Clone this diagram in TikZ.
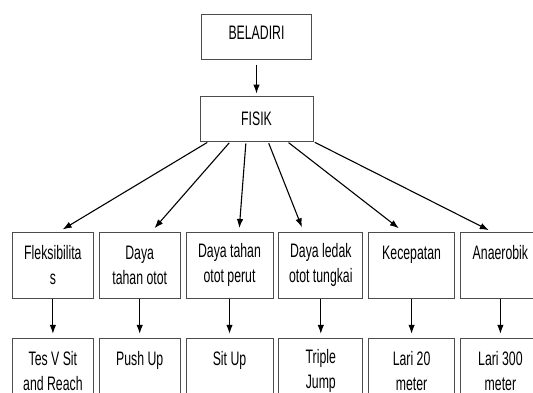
\documentclass[tikz,border=0pt]{standalone}
\usepackage{xcolor}
\usepackage{fontspec}
\setmainfont{Liberation Sans}[FakeStretch=0.63]
\usepackage{tikz}
\usetikzlibrary{arrows.meta,positioning}
\tikzstyle{block} = [rectangle, draw=black!70, line width=0.8pt, inner sep=0pt,
    minimum height=45pt, font=\fontsize{19.5}{25}\selectfont]
\tikzstyle{cat} = [block, align=center, minimum height=66pt]
\tikzstyle{line} = [draw, -{Latex[length=9pt,width=6.5pt]}, line width=1.1pt]

\begin{document}
\begin{tikzpicture}[node distance=5pt]
    \useasboundingbox (0,0) rectangle (533pt,-393pt);
    \clip (0,0) rectangle (533pt,-393pt);
    % Nodes
    \node [block, minimum width=113pt] (fisik) at (256.5pt,-118.5pt) {FISIK};
    \node [block, minimum width=110pt, text depth=7pt, above=36pt of fisik] (beladiri) {BELADIRI};

    \node [cat, minimum width=81pt, anchor=north west] (fleks) at (12pt,-232pt) {Fleksibilita\\s};
    \node [cat, minimum width=81pt, right=of fleks] (otot) {Daya\\tahan otot};
    \node [cat, minimum width=87pt, right=of otot] (perut) {Daya tahan\\otot perut};
    \node [cat, minimum width=84pt, right=of perut] (tungkai) {Daya ledak\\otot tungkai};
    \node [cat, minimum width=86pt, right=of tungkai] (cepat) {Kecepatan\\\mbox{}};
    \node [cat, minimum width=80pt, right=of cepat] (anaerob) {Anaerobik\\\mbox{}};

    \node [cat, minimum width=81pt, below=39pt of fleks] (sitreach) {Tes V Sit\\and Reach};
    \node [cat, minimum width=81pt, below=39pt of otot] (pushup) {Push Up\\\mbox{}};
    \node [cat, minimum width=87pt, below=39pt of perut] (situp) {Sit Up\\\mbox{}};
    \node [cat, minimum width=84pt, below=39pt of tungkai] (jump) {Triple\\Jump};
    \node [cat, minimum width=86pt, below=39pt of cepat] (lari20) {Lari 20\\meter};
    \node [cat, minimum width=80pt, below=39pt of anaerob] (lari300) {Lari 300\\meter};

    % Edges
    \path [line, shorten <=5pt, shorten >=2pt] (beladiri) -- (fisik);
    \path [line, shorten <=2pt, shorten >=5pt] ([xshift=-47.5pt]fisik.south) -- ([xshift=5.5pt]fleks.north);
    \path [line, shorten <=2pt, shorten >=5pt] ([xshift=-26pt]fisik.south) -- ([xshift=11.5pt]otot.north);
    \path [line, shorten <=2pt, shorten >=4pt] ([xshift=-10.5pt]fisik.south) -- ([xshift=9.5pt]perut.north);
    \path [line, shorten <=2pt, shorten >=5pt] ([xshift=11.5pt]fisik.south) -- ([xshift=-17pt]tungkai.north);
    \path [line, shorten <=2pt, shorten >=6pt] ([xshift=30.5pt]fisik.south) -- ([xshift=-8pt]cepat.north);
    \path [line, shorten <=2pt, shorten >=4pt] ([xshift=56.5pt]fisik.south) -- ([xshift=-8pt]anaerob.north);

    \path [line, shorten >=4pt] (fleks) -- (sitreach);
    \path [line, shorten >=4pt] (otot) -- (pushup);
    \path [line, shorten >=4pt] (perut) -- (situp);
    \path [line, shorten >=4pt] (tungkai) -- (jump);
    \path [line, shorten >=4pt] (cepat) -- (lari20);
    \path [line, shorten >=4pt] (anaerob) -- (lari300);
\end{tikzpicture}
\end{document}
